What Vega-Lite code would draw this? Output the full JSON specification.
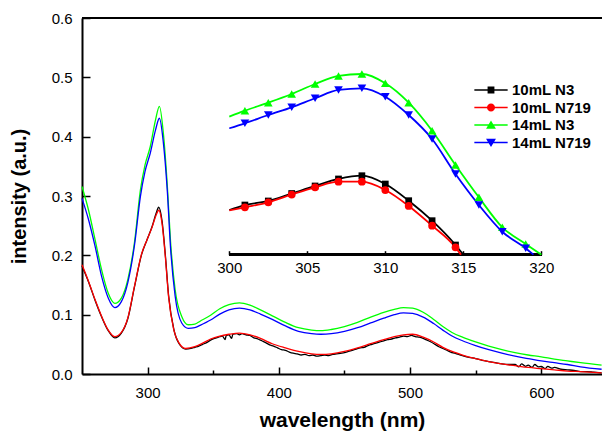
{
  "$schema": "https://vega.github.io/schema/vega-lite/v6.json",
  "width": 520,
  "height": 356,
  "autosize": {"type": "none"},
  "padding": {"left": 82, "top": 18, "right": 0, "bottom": 58},
  "background": "white",
  "config": {
    "view": {"stroke": null},
    "font": "Liberation Sans",
    "axis": {"domainColor": "black", "tickColor": "black", "labelColor": "black", "titleColor": "black", "labelFont": "Liberation Sans", "titleFont": "Liberation Sans", "grid": false, "zindex": 1},
    "legend": {"orient": "none", "legendX": 385, "legendY": 55, "fillColor": "white", "padding": 8, "symbolSize": 324, "symbolOffset": 7, "labelOffset": 12, "labelFont": "Liberation Sans", "labelFontSize": 15, "labelFontWeight": "bold", "labelColor": "black", "rowPadding": 0.5, "symbolOpacity": 1, "symbolStrokeWidth": 0}
  },
  "datasets": {
    "main": [
      {"s": "10mL N3", "w": 250, "v": 0.182}, {"s": "10mL N3", "w": 255, "v": 0.155}, {"s": "10mL N3", "w": 260, "v": 0.124}, {"s": "10mL N3", "w": 265, "v": 0.096}, {"s": "10mL N3", "w": 270, "v": 0.073}, {"s": "10mL N3", "w": 275, "v": 0.061}, {"s": "10mL N3", "w": 280, "v": 0.069}, {"s": "10mL N3", "w": 285, "v": 0.094}, {"s": "10mL N3", "w": 290, "v": 0.147}, {"s": "10mL N3", "w": 295.5, "v": 0.202}, {"s": "10mL N3", "w": 299.5, "v": 0.226}, {"s": "10mL N3", "w": 303.5, "v": 0.249}, {"s": "10mL N3", "w": 306.5, "v": 0.271}, {"s": "10mL N3", "w": 308.5, "v": 0.281}, {"s": "10mL N3", "w": 311, "v": 0.258}, {"s": "10mL N3", "w": 313.5, "v": 0.201}, {"s": "10mL N3", "w": 316, "v": 0.132}, {"s": "10mL N3", "w": 320, "v": 0.075}, {"s": "10mL N3", "w": 324, "v": 0.051}, {"s": "10mL N3", "w": 329, "v": 0.042}, {"s": "10mL N3", "w": 333, "v": 0.043}, {"s": "10mL N3", "w": 336, "v": 0.045}, {"s": "10mL N3", "w": 339, "v": 0.047}, {"s": "10mL N3", "w": 342, "v": 0.05}, {"s": "10mL N3", "w": 345, "v": 0.053}, {"s": "10mL N3", "w": 348, "v": 0.057}, {"s": "10mL N3", "w": 351, "v": 0.06}, {"s": "10mL N3", "w": 354, "v": 0.062}, {"s": "10mL N3", "w": 357, "v": 0.064}, {"s": "10mL N3", "w": 359, "v": 0.058}, {"s": "10mL N3", "w": 360, "v": 0.065}, {"s": "10mL N3", "w": 362, "v": 0.066}, {"s": "10mL N3", "w": 364, "v": 0.06}, {"s": "10mL N3", "w": 365, "v": 0.067}, {"s": "10mL N3", "w": 368, "v": 0.068}, {"s": "10mL N3", "w": 370, "v": 0.066}, {"s": "10mL N3", "w": 372, "v": 0.068}, {"s": "10mL N3", "w": 375, "v": 0.066}, {"s": "10mL N3", "w": 378, "v": 0.065}, {"s": "10mL N3", "w": 381, "v": 0.061}, {"s": "10mL N3", "w": 384, "v": 0.059}, {"s": "10mL N3", "w": 387, "v": 0.056}, {"s": "10mL N3", "w": 390, "v": 0.053}, {"s": "10mL N3", "w": 393, "v": 0.049}, {"s": "10mL N3", "w": 396, "v": 0.047}, {"s": "10mL N3", "w": 399, "v": 0.044}, {"s": "10mL N3", "w": 402, "v": 0.041}, {"s": "10mL N3", "w": 405, "v": 0.04}, {"s": "10mL N3", "w": 408, "v": 0.037}, {"s": "10mL N3", "w": 411, "v": 0.035}, {"s": "10mL N3", "w": 414, "v": 0.034}, {"s": "10mL N3", "w": 417, "v": 0.032}, {"s": "10mL N3", "w": 420, "v": 0.033}, {"s": "10mL N3", "w": 423, "v": 0.031}, {"s": "10mL N3", "w": 426, "v": 0.032}, {"s": "10mL N3", "w": 429, "v": 0.03}, {"s": "10mL N3", "w": 432, "v": 0.031}, {"s": "10mL N3", "w": 435, "v": 0.032}, {"s": "10mL N3", "w": 438, "v": 0.031}, {"s": "10mL N3", "w": 441, "v": 0.033}, {"s": "10mL N3", "w": 444, "v": 0.034}, {"s": "10mL N3", "w": 447, "v": 0.035}, {"s": "10mL N3", "w": 450, "v": 0.036}, {"s": "10mL N3", "w": 453, "v": 0.038}, {"s": "10mL N3", "w": 456, "v": 0.04}, {"s": "10mL N3", "w": 459, "v": 0.042}, {"s": "10mL N3", "w": 462, "v": 0.044}, {"s": "10mL N3", "w": 465, "v": 0.045}, {"s": "10mL N3", "w": 468, "v": 0.048}, {"s": "10mL N3", "w": 471, "v": 0.05}, {"s": "10mL N3", "w": 474, "v": 0.052}, {"s": "10mL N3", "w": 477, "v": 0.054}, {"s": "10mL N3", "w": 480, "v": 0.056}, {"s": "10mL N3", "w": 483, "v": 0.058}, {"s": "10mL N3", "w": 486, "v": 0.059}, {"s": "10mL N3", "w": 489, "v": 0.061}, {"s": "10mL N3", "w": 492, "v": 0.062}, {"s": "10mL N3", "w": 495, "v": 0.064}, {"s": "10mL N3", "w": 498, "v": 0.063}, {"s": "10mL N3", "w": 501, "v": 0.065}, {"s": "10mL N3", "w": 504, "v": 0.063}, {"s": "10mL N3", "w": 507, "v": 0.062}, {"s": "10mL N3", "w": 510, "v": 0.06}, {"s": "10mL N3", "w": 513, "v": 0.057}, {"s": "10mL N3", "w": 516, "v": 0.054}, {"s": "10mL N3", "w": 519, "v": 0.05}, {"s": "10mL N3", "w": 522, "v": 0.046}, {"s": "10mL N3", "w": 525, "v": 0.043}, {"s": "10mL N3", "w": 528, "v": 0.04}, {"s": "10mL N3", "w": 531, "v": 0.037}, {"s": "10mL N3", "w": 534, "v": 0.035}, {"s": "10mL N3", "w": 537, "v": 0.033}, {"s": "10mL N3", "w": 540, "v": 0.031}, {"s": "10mL N3", "w": 545, "v": 0.028}, {"s": "10mL N3", "w": 550, "v": 0.026}, {"s": "10mL N3", "w": 555, "v": 0.023}, {"s": "10mL N3", "w": 560, "v": 0.021}, {"s": "10mL N3", "w": 565, "v": 0.019}, {"s": "10mL N3", "w": 570, "v": 0.017}, {"s": "10mL N3", "w": 575, "v": 0.016}, {"s": "10mL N3", "w": 580, "v": 0.016}, {"s": "10mL N3", "w": 583, "v": 0.012}, {"s": "10mL N3", "w": 585, "v": 0.017}, {"s": "10mL N3", "w": 588, "v": 0.013}, {"s": "10mL N3", "w": 590, "v": 0.015}, {"s": "10mL N3", "w": 593, "v": 0.011}, {"s": "10mL N3", "w": 595, "v": 0.016}, {"s": "10mL N3", "w": 598, "v": 0.012}, {"s": "10mL N3", "w": 600, "v": 0.013}, {"s": "10mL N3", "w": 603, "v": 0.009}, {"s": "10mL N3", "w": 605, "v": 0.013}, {"s": "10mL N3", "w": 608, "v": 0.01}, {"s": "10mL N3", "w": 610, "v": 0.011}, {"s": "10mL N3", "w": 615, "v": 0.008}, {"s": "10mL N3", "w": 620, "v": 0.007}, {"s": "10mL N3", "w": 625, "v": 0.006}, {"s": "10mL N3", "w": 630, "v": 0.004}, {"s": "10mL N3", "w": 635, "v": 0.004}, {"s": "10mL N3", "w": 640, "v": 0.003}, {"s": "10mL N3", "w": 646, "v": 0.002},

      {"s": "10mL N719", "w": 250, "v": 0.184}, {"s": "10mL N719", "w": 255, "v": 0.156}, {"s": "10mL N719", "w": 260, "v": 0.125}, {"s": "10mL N719", "w": 265, "v": 0.097}, {"s": "10mL N719", "w": 270, "v": 0.074}, {"s": "10mL N719", "w": 275, "v": 0.063}, {"s": "10mL N719", "w": 280, "v": 0.07}, {"s": "10mL N719", "w": 285, "v": 0.095}, {"s": "10mL N719", "w": 290, "v": 0.148}, {"s": "10mL N719", "w": 295.5, "v": 0.203}, {"s": "10mL N719", "w": 299.5, "v": 0.226}, {"s": "10mL N719", "w": 303.5, "v": 0.248}, {"s": "10mL N719", "w": 306.5, "v": 0.268}, {"s": "10mL N719", "w": 308.5, "v": 0.276}, {"s": "10mL N719", "w": 311, "v": 0.254}, {"s": "10mL N719", "w": 313.5, "v": 0.198}, {"s": "10mL N719", "w": 316, "v": 0.13}, {"s": "10mL N719", "w": 320, "v": 0.074}, {"s": "10mL N719", "w": 324, "v": 0.052}, {"s": "10mL N719", "w": 329, "v": 0.043}, {"s": "10mL N719", "w": 336, "v": 0.046}, {"s": "10mL N719", "w": 342, "v": 0.052}, {"s": "10mL N719", "w": 348, "v": 0.059}, {"s": "10mL N719", "w": 355, "v": 0.064}, {"s": "10mL N719", "w": 362, "v": 0.067}, {"s": "10mL N719", "w": 370, "v": 0.069}, {"s": "10mL N719", "w": 378, "v": 0.066}, {"s": "10mL N719", "w": 386, "v": 0.06}, {"s": "10mL N719", "w": 395, "v": 0.051}, {"s": "10mL N719", "w": 405, "v": 0.044}, {"s": "10mL N719", "w": 415, "v": 0.038}, {"s": "10mL N719", "w": 425, "v": 0.034}, {"s": "10mL N719", "w": 432, "v": 0.033}, {"s": "10mL N719", "w": 440, "v": 0.034}, {"s": "10mL N719", "w": 450, "v": 0.038}, {"s": "10mL N719", "w": 460, "v": 0.044}, {"s": "10mL N719", "w": 470, "v": 0.051}, {"s": "10mL N719", "w": 480, "v": 0.058}, {"s": "10mL N719", "w": 488, "v": 0.063}, {"s": "10mL N719", "w": 495, "v": 0.066}, {"s": "10mL N719", "w": 502, "v": 0.067}, {"s": "10mL N719", "w": 510, "v": 0.062}, {"s": "10mL N719", "w": 518, "v": 0.054}, {"s": "10mL N719", "w": 525, "v": 0.045}, {"s": "10mL N719", "w": 532, "v": 0.038}, {"s": "10mL N719", "w": 540, "v": 0.032}, {"s": "10mL N719", "w": 550, "v": 0.026}, {"s": "10mL N719", "w": 560, "v": 0.021}, {"s": "10mL N719", "w": 570, "v": 0.017}, {"s": "10mL N719", "w": 580, "v": 0.014}, {"s": "10mL N719", "w": 590, "v": 0.011}, {"s": "10mL N719", "w": 600, "v": 0.009}, {"s": "10mL N719", "w": 610, "v": 0.007}, {"s": "10mL N719", "w": 620, "v": 0.005}, {"s": "10mL N719", "w": 630, "v": 0.004}, {"s": "10mL N719", "w": 646, "v": 0.002},

      {"s": "14mL N3", "w": 250, "v": 0.316}, {"s": "14mL N3", "w": 255, "v": 0.276}, {"s": "14mL N3", "w": 260, "v": 0.226}, {"s": "14mL N3", "w": 265, "v": 0.175}, {"s": "14mL N3", "w": 270, "v": 0.136}, {"s": "14mL N3", "w": 275, "v": 0.119}, {"s": "14mL N3", "w": 280, "v": 0.128}, {"s": "14mL N3", "w": 285, "v": 0.16}, {"s": "14mL N3", "w": 290, "v": 0.222}, {"s": "14mL N3", "w": 294.5, "v": 0.31}, {"s": "14mL N3", "w": 298, "v": 0.352}, {"s": "14mL N3", "w": 302, "v": 0.383}, {"s": "14mL N3", "w": 306, "v": 0.428}, {"s": "14mL N3", "w": 309, "v": 0.451}, {"s": "14mL N3", "w": 312, "v": 0.406}, {"s": "14mL N3", "w": 315, "v": 0.318}, {"s": "14mL N3", "w": 317.5, "v": 0.223}, {"s": "14mL N3", "w": 321, "v": 0.142}, {"s": "14mL N3", "w": 326, "v": 0.097}, {"s": "14mL N3", "w": 331, "v": 0.083}, {"s": "14mL N3", "w": 336, "v": 0.084}, {"s": "14mL N3", "w": 340, "v": 0.089}, {"s": "14mL N3", "w": 348, "v": 0.099}, {"s": "14mL N3", "w": 355, "v": 0.11}, {"s": "14mL N3", "w": 362, "v": 0.117}, {"s": "14mL N3", "w": 370, "v": 0.12}, {"s": "14mL N3", "w": 378, "v": 0.116}, {"s": "14mL N3", "w": 386, "v": 0.108}, {"s": "14mL N3", "w": 395, "v": 0.098}, {"s": "14mL N3", "w": 405, "v": 0.087}, {"s": "14mL N3", "w": 415, "v": 0.078}, {"s": "14mL N3", "w": 425, "v": 0.074}, {"s": "14mL N3", "w": 432, "v": 0.073}, {"s": "14mL N3", "w": 440, "v": 0.075}, {"s": "14mL N3", "w": 450, "v": 0.08}, {"s": "14mL N3", "w": 460, "v": 0.087}, {"s": "14mL N3", "w": 470, "v": 0.096}, {"s": "14mL N3", "w": 480, "v": 0.104}, {"s": "14mL N3", "w": 488, "v": 0.109}, {"s": "14mL N3", "w": 495, "v": 0.112}, {"s": "14mL N3", "w": 502, "v": 0.111}, {"s": "14mL N3", "w": 510, "v": 0.104}, {"s": "14mL N3", "w": 518, "v": 0.092}, {"s": "14mL N3", "w": 525, "v": 0.08}, {"s": "14mL N3", "w": 532, "v": 0.07}, {"s": "14mL N3", "w": 540, "v": 0.062}, {"s": "14mL N3", "w": 550, "v": 0.054}, {"s": "14mL N3", "w": 560, "v": 0.047}, {"s": "14mL N3", "w": 570, "v": 0.041}, {"s": "14mL N3", "w": 580, "v": 0.036}, {"s": "14mL N3", "w": 590, "v": 0.032}, {"s": "14mL N3", "w": 600, "v": 0.029}, {"s": "14mL N3", "w": 610, "v": 0.025}, {"s": "14mL N3", "w": 620, "v": 0.022}, {"s": "14mL N3", "w": 630, "v": 0.019}, {"s": "14mL N3", "w": 646, "v": 0.015},

      {"s": "14mL N719", "w": 250, "v": 0.296}, {"s": "14mL N719", "w": 255, "v": 0.26}, {"s": "14mL N719", "w": 260, "v": 0.215}, {"s": "14mL N719", "w": 265, "v": 0.164}, {"s": "14mL N719", "w": 270, "v": 0.128}, {"s": "14mL N719", "w": 275, "v": 0.112}, {"s": "14mL N719", "w": 280, "v": 0.122}, {"s": "14mL N719", "w": 285, "v": 0.155}, {"s": "14mL N719", "w": 290, "v": 0.217}, {"s": "14mL N719", "w": 294.5, "v": 0.299}, {"s": "14mL N719", "w": 298, "v": 0.341}, {"s": "14mL N719", "w": 302, "v": 0.372}, {"s": "14mL N719", "w": 306, "v": 0.411}, {"s": "14mL N719", "w": 309, "v": 0.431}, {"s": "14mL N719", "w": 312, "v": 0.39}, {"s": "14mL N719", "w": 315, "v": 0.309}, {"s": "14mL N719", "w": 317.5, "v": 0.212}, {"s": "14mL N719", "w": 321, "v": 0.131}, {"s": "14mL N719", "w": 326, "v": 0.086}, {"s": "14mL N719", "w": 331, "v": 0.077}, {"s": "14mL N719", "w": 336, "v": 0.078}, {"s": "14mL N719", "w": 340, "v": 0.082}, {"s": "14mL N719", "w": 348, "v": 0.091}, {"s": "14mL N719", "w": 355, "v": 0.101}, {"s": "14mL N719", "w": 362, "v": 0.108}, {"s": "14mL N719", "w": 370, "v": 0.111}, {"s": "14mL N719", "w": 378, "v": 0.108}, {"s": "14mL N719", "w": 386, "v": 0.101}, {"s": "14mL N719", "w": 395, "v": 0.092}, {"s": "14mL N719", "w": 405, "v": 0.081}, {"s": "14mL N719", "w": 415, "v": 0.072}, {"s": "14mL N719", "w": 425, "v": 0.068}, {"s": "14mL N719", "w": 432, "v": 0.067}, {"s": "14mL N719", "w": 440, "v": 0.068}, {"s": "14mL N719", "w": 450, "v": 0.072}, {"s": "14mL N719", "w": 460, "v": 0.078}, {"s": "14mL N719", "w": 470, "v": 0.086}, {"s": "14mL N719", "w": 480, "v": 0.094}, {"s": "14mL N719", "w": 488, "v": 0.1}, {"s": "14mL N719", "w": 495, "v": 0.103}, {"s": "14mL N719", "w": 502, "v": 0.102}, {"s": "14mL N719", "w": 510, "v": 0.096}, {"s": "14mL N719", "w": 518, "v": 0.085}, {"s": "14mL N719", "w": 525, "v": 0.074}, {"s": "14mL N719", "w": 532, "v": 0.064}, {"s": "14mL N719", "w": 540, "v": 0.056}, {"s": "14mL N719", "w": 550, "v": 0.048}, {"s": "14mL N719", "w": 560, "v": 0.041}, {"s": "14mL N719", "w": 570, "v": 0.035}, {"s": "14mL N719", "w": 580, "v": 0.03}, {"s": "14mL N719", "w": 590, "v": 0.026}, {"s": "14mL N719", "w": 600, "v": 0.022}, {"s": "14mL N719", "w": 610, "v": 0.019}, {"s": "14mL N719", "w": 620, "v": 0.016}, {"s": "14mL N719", "w": 630, "v": 0.012}, {"s": "14mL N719", "w": 646, "v": 0.008}
    ],
    "inset": [
      {"s": "10mL N3", "w": 300, "v": 0.2764}, {"s": "10mL N3", "w": 301, "v": 0.2848}, {"s": "10mL N3", "w": 302.5, "v": 0.2916}, {"s": "10mL N3", "w": 304, "v": 0.3042}, {"s": "10mL N3", "w": 305.5, "v": 0.3169}, {"s": "10mL N3", "w": 307, "v": 0.3287}, {"s": "10mL N3", "w": 308.5, "v": 0.3342}, {"s": "10mL N3", "w": 310, "v": 0.3202}, {"s": "10mL N3", "w": 311.5, "v": 0.2921}, {"s": "10mL N3", "w": 313, "v": 0.2584}, {"s": "10mL N3", "w": 314.5, "v": 0.2174}, {"s": "10mL N3", "w": 315, "v": 0.2011},
      {"s": "10mL N719", "w": 300, "v": 0.2756}, {"s": "10mL N719", "w": 301, "v": 0.281}, {"s": "10mL N719", "w": 302.5, "v": 0.2894}, {"s": "10mL N719", "w": 304, "v": 0.3025}, {"s": "10mL N719", "w": 305.5, "v": 0.3147}, {"s": "10mL N719", "w": 307, "v": 0.3241}, {"s": "10mL N719", "w": 308.5, "v": 0.3241}, {"s": "10mL N719", "w": 310, "v": 0.3101}, {"s": "10mL N719", "w": 311.5, "v": 0.2832}, {"s": "10mL N719", "w": 313, "v": 0.25}, {"s": "10mL N719", "w": 314.5, "v": 0.2135}, {"s": "10mL N719", "w": 314.85, "v": 0.2011},
      {"s": "14mL N3", "w": 300, "v": 0.4337}, {"s": "14mL N3", "w": 301, "v": 0.4438}, {"s": "14mL N3", "w": 302.5, "v": 0.4573}, {"s": "14mL N3", "w": 304, "v": 0.4719}, {"s": "14mL N3", "w": 305.5, "v": 0.4888}, {"s": "14mL N3", "w": 307, "v": 0.5023}, {"s": "14mL N3", "w": 308.5, "v": 0.5056}, {"s": "14mL N3", "w": 310, "v": 0.49}, {"s": "14mL N3", "w": 311.5, "v": 0.4573}, {"s": "14mL N3", "w": 313, "v": 0.4101}, {"s": "14mL N3", "w": 314.5, "v": 0.3523}, {"s": "14mL N3", "w": 316, "v": 0.2978}, {"s": "14mL N3", "w": 317.5, "v": 0.2473}, {"s": "14mL N3", "w": 319, "v": 0.2191}, {"s": "14mL N3", "w": 320, "v": 0.2011},
      {"s": "14mL N719", "w": 300, "v": 0.4141}, {"s": "14mL N719", "w": 301, "v": 0.4225}, {"s": "14mL N719", "w": 302.5, "v": 0.4365}, {"s": "14mL N719", "w": 304, "v": 0.4495}, {"s": "14mL N719", "w": 305.5, "v": 0.4647}, {"s": "14mL N719", "w": 307, "v": 0.4787}, {"s": "14mL N719", "w": 308.5, "v": 0.4815}, {"s": "14mL N719", "w": 310, "v": 0.4674}, {"s": "14mL N719", "w": 311.5, "v": 0.4365}, {"s": "14mL N719", "w": 313, "v": 0.3961}, {"s": "14mL N719", "w": 314.5, "v": 0.3371}, {"s": "14mL N719", "w": 316, "v": 0.2848}, {"s": "14mL N719", "w": 317.5, "v": 0.2398}, {"s": "14mL N719", "w": 319, "v": 0.2119}, {"s": "14mL N719", "w": 319.5, "v": 0.2011}
    ]
  },
  "layer": [
    {
      "data": {"name": "main"},
      "layer": [
        {"mark": {"type": "rule", "color": "black", "strokeWidth": 1.5}, "encoding": {"y": {"datum": 0.6, "type": "quantitative"}}},
        {
          "mark": {"type": "line", "interpolate": "monotone", "strokeWidth": 1.3},
          "encoding": {
            "x": {"field": "w", "type": "quantitative", "scale": {"domain": [250, 646.3], "nice": false, "zero": false},
              "axis": {"values": [300, 350, 400, 450, 500, 550, 600], "format": "d", "labelExpr": "datum.value % 100 === 0 ? datum.label : ''", "tickSize": {"condition": {"test": "datum.value % 100 === 0", "value": -7}, "value": -4}, "tickWidth": 1.5, "domainWidth": 2, "labelFontSize": 15, "labelPadding": 18, "title": "wavelength (nm)", "titleFontSize": 21, "titleFontWeight": "bold", "titlePadding": 9}},
            "y": {"field": "v", "type": "quantitative", "scale": {"domain": [0, 0.6], "nice": false},
              "axis": {"values": [0, 0.1, 0.2, 0.3, 0.4, 0.5, 0.6], "format": ".1f", "tickSize": -8, "tickWidth": 1.5, "domainWidth": 2, "labelFontSize": 15, "labelPadding": 18, "title": "intensity (a.u.)", "titleFontSize": 20, "titleFontWeight": "bold", "titlePadding": 22}},
            "color": {"field": "s", "type": "nominal", "scale": {"domain": ["10mL N3", "10mL N719", "14mL N3", "14mL N719"], "range": ["#000000", "#ff0000", "#00ff00", "#0000ff"]}, "legend": {"title": null}}
          }
        }
      ]
    },
    {
      "data": {"name": "inset"},
      "layer": [
        {
          "mark": {"type": "rule", "color": "black", "strokeWidth": 2},
          "encoding": {
            "x": {"datum": 300, "type": "quantitative", "scale": {"domain": [290.558, 323.891], "nice": false, "zero": false},
              "axis": {"orient": "bottom", "offset": -119.3, "values": [300, 305, 310, 315, 320], "format": "d", "domain": false, "tickSize": -4, "tickWidth": 1.5, "labelFontSize": 15, "labelPadding": 10, "title": null}},
            "x2": {"datum": 320},
            "y": {"datum": 0.2011, "type": "quantitative"}
          }
        },
        {
          "mark": {"type": "line", "interpolate": "monotone", "strokeWidth": 1.8},
          "encoding": {
            "x": {"field": "w", "type": "quantitative"},
            "y": {"field": "v", "type": "quantitative"},
            "color": {"field": "s", "type": "nominal", "legend": {"title": null}}
          }
        },
        {
          "transform": [{"filter": "datum.s === '10mL N3' && (datum.w - 301) % 1.5 === 0"}],
          "mark": {"type": "point", "shape": "square", "filled": true, "size": 45, "opacity": 1},
          "encoding": {"x": {"field": "w", "type": "quantitative"}, "y": {"field": "v", "type": "quantitative"}, "color": {"field": "s", "type": "nominal", "legend": {"title": null}}}
        },
        {
          "transform": [{"filter": "datum.s === '10mL N719' && (datum.w - 301) % 1.5 === 0"}],
          "mark": {"type": "point", "shape": "circle", "filled": true, "size": 60, "opacity": 1},
          "encoding": {"x": {"field": "w", "type": "quantitative"}, "y": {"field": "v", "type": "quantitative"}, "color": {"field": "s", "type": "nominal", "legend": {"title": null}}}
        },
        {
          "transform": [{"filter": "datum.s === '14mL N3' && (datum.w - 301) % 1.5 === 0"}],
          "mark": {"type": "point", "shape": "triangle-up", "filled": true, "size": 75, "opacity": 1},
          "encoding": {"x": {"field": "w", "type": "quantitative"}, "y": {"field": "v", "type": "quantitative"}, "color": {"field": "s", "type": "nominal", "legend": {"title": null}}}
        },
        {
          "transform": [{"filter": "datum.s === '14mL N719' && (datum.w - 301) % 1.5 === 0"}],
          "mark": {"type": "point", "shape": "triangle-down", "filled": true, "size": 75, "opacity": 1},
          "encoding": {"x": {"field": "w", "type": "quantitative"}, "y": {"field": "v", "type": "quantitative"}, "color": {"field": "s", "type": "nominal", "legend": {"title": null}}}
        },
        {
          "transform": [{"filter": "datum.w === 301"}],
          "mark": {"type": "point", "filled": true, "opacity": 0},
          "encoding": {
            "x": {"field": "w", "type": "quantitative"},
            "y": {"field": "v", "type": "quantitative"},
            "color": {"field": "s", "type": "nominal", "legend": {"title": null}},
            "shape": {"field": "s", "type": "nominal",
              "scale": {"domain": ["10mL N3", "10mL N719", "14mL N3", "14mL N719"],
                "range": [
                  "M-1.85,-0.075H1.85V0.075H-1.85Z M-0.38,-0.38H0.38V0.38H-0.38Z",
                  "M-1.85,-0.075H1.85V0.075H-1.85Z M-0.45,0A0.45,0.45,0,1,1,0.45,0A0.45,0.45,0,1,1,-0.45,0Z",
                  "M-1.85,-0.075H1.85V0.075H-1.85Z M0,-0.5L0.55,0.42L-0.55,0.42Z",
                  "M-1.85,-0.075H1.85V0.075H-1.85Z M0,0.5L-0.55,-0.42L0.55,-0.42Z"
                ]},
              "legend": {"title": null}}
          }
        }
      ]
    }
  ],
  "resolve": {"scale": {"x": "independent"}, "axis": {"x": "independent"}}
}
